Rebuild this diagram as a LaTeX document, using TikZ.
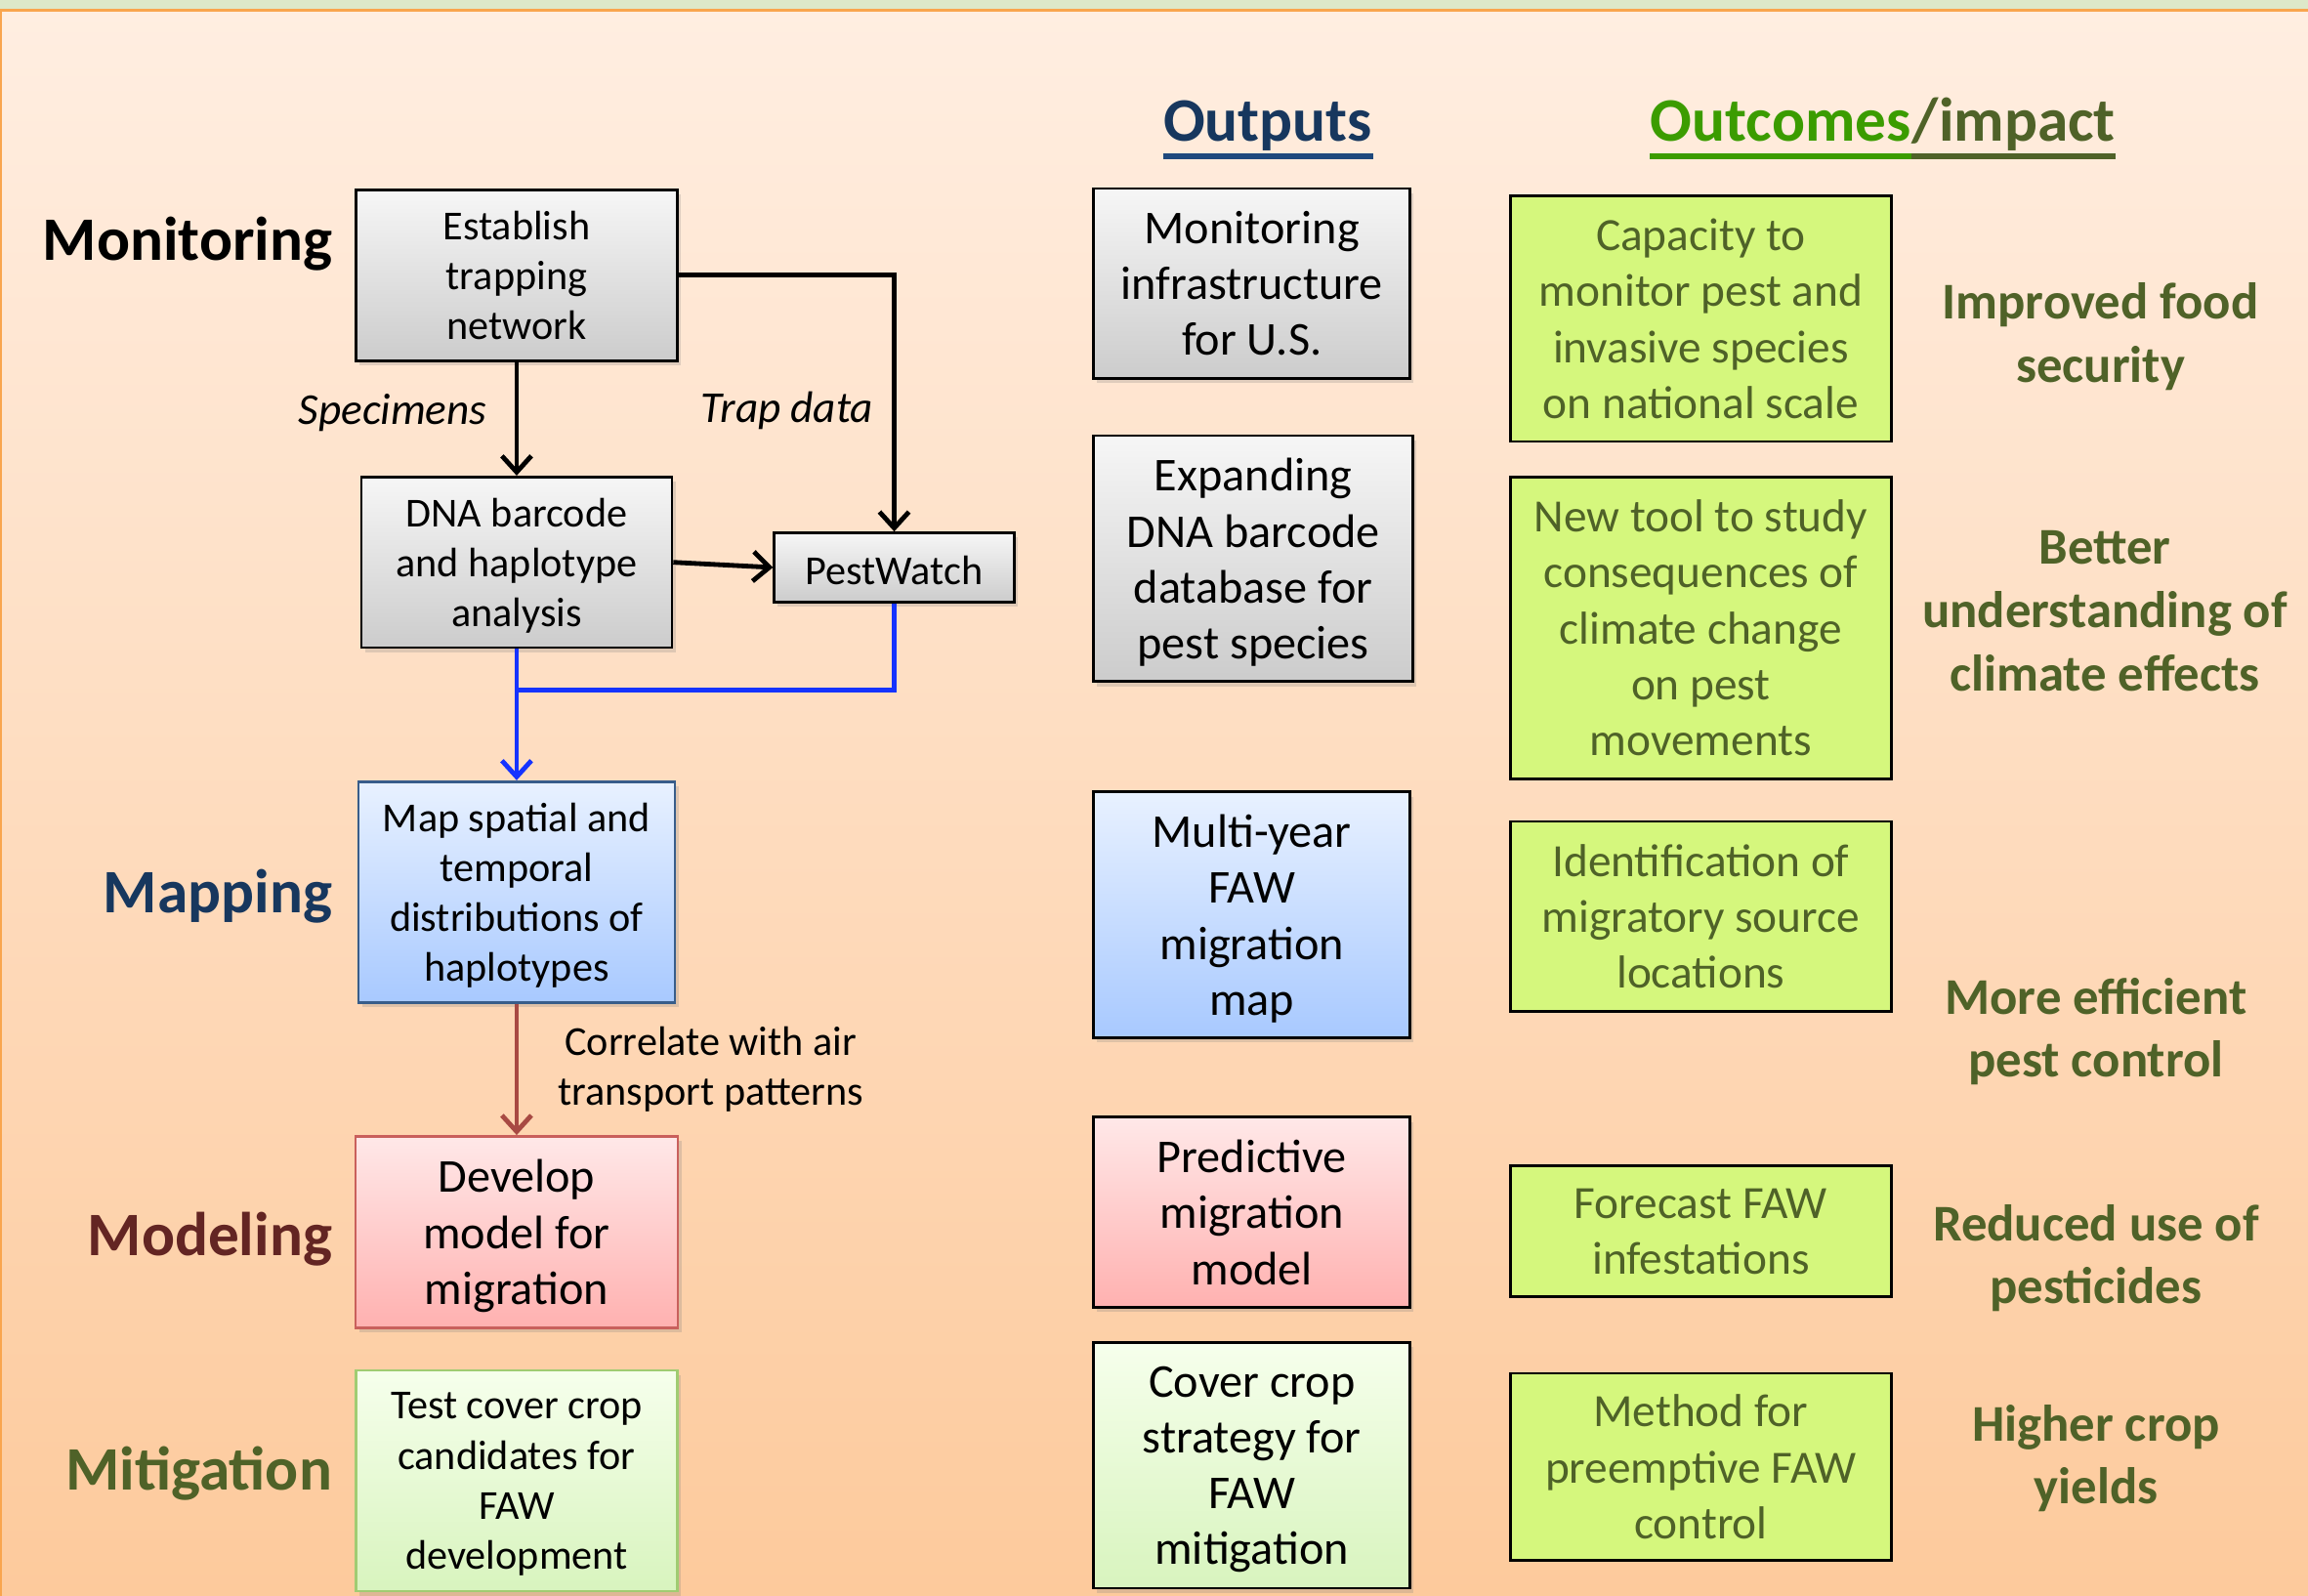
\documentclass[tikz,border=0pt]{standalone}
\usepackage{fontspec}
\setmainfont{Carlito}
\usetikzlibrary{positioning,arrows.meta,shadows}

\definecolor{navyhead}{HTML}{17375E}
\definecolor{navyline}{HTML}{1F497D}
\definecolor{olivetext}{HTML}{4F6228}
\definecolor{grassgreen}{HTML}{3B9C00}
\definecolor{winered}{HTML}{632523}
\definecolor{limefill}{HTML}{D5F77D}
\definecolor{brickred}{HTML}{A84A43}
\definecolor{wireblue}{HTML}{1533FF}
\definecolor{peachtop}{HTML}{FFEEE1}
\definecolor{peachbot}{HTML}{FDCA9C}
\definecolor{bandgreen}{HTML}{DDE8C9}
\definecolor{bandorange}{HTML}{F9A54E}
\definecolor{bluetop}{HTML}{E8F1FF}
\definecolor{bluebot}{HTML}{A8C9FF}
\definecolor{mapborder}{HTML}{385D8A}
\definecolor{pinktop}{HTML}{FFE8E8}
\definecolor{pinkbot}{HTML}{FFB1B0}
\definecolor{pinkborder}{HTML}{C9605C}
\definecolor{greentop}{HTML}{F6FFEC}
\definecolor{greenbot}{HTML}{D8F4BE}
\definecolor{greenborder}{HTML}{A0CC72}

\tikzset{
  stage/.style={draw, line width=0.9pt, align=center, inner sep=1pt, text depth=0pt,
    execute at begin node={\rule{0pt}{0.84em}},
    drop shadow={opacity=0.25, shadow xshift=1.2pt, shadow yshift=-1.6pt}},
  greystage/.style={stage, top color=gray!7, bottom color=gray!40},
  bluestage/.style={stage, top color=bluetop, bottom color=bluebot},
  pinkstage/.style={stage, top color=pinktop, bottom color=pinkbot},
  greenstage/.style={stage, top color=greentop, bottom color=greenbot},
  goal/.style={draw, line width=0.9pt, fill=limefill, align=center, text=olivetext,
    text depth=0pt, execute at begin node={\rule{0pt}{0.84em}},
    font=\fontsize{15.7}{19}\selectfont},
  smalltxt/.style={font=\fontsize{14}{17}\selectfont},
  bigtxt/.style={font=\fontsize{16}{19}\selectfont},
  rowname/.style={anchor=base east, inner sep=0pt, font=\fontsize{21}{25}\selectfont\bfseries},
  impact/.style={align=center, text=olivetext, text depth=0pt, font=\fontsize{17.5}{21.5}\selectfont\bfseries},
  head/.style={anchor=base west, inner sep=0pt, font=\fontsize{21}{25}\selectfont\bfseries},
  flow/.style={line width=1.6pt, -{Straight Barb[length=5.5pt,width=10pt]}},
  bluewire/.style={wireblue, line width=1.6pt},
}

\begin{document}
\begin{tikzpicture}[x=0.5pt,y=-0.5pt]
    \useasboundingbox (0,0) rectangle (1568,1084);
    % background of the slide
    \shade[top color=peachtop, bottom color=peachbot] (0,7) rectangle (1568,1084);
    \fill[bandgreen] (0,0) rectangle (1568,6.5);
    \draw[bandorange, line width=1pt] (0,7) -- (1568,7);
    \draw[bandorange, line width=1pt] (0.5,7) -- (0.5,1084);

    % headings
    \node[head, text=navyhead] (outputs) at (790,96) {Outputs};
    \draw[navyline, line width=2pt] ([yshift=-5pt]outputs.base west) -- ([yshift=-5pt]outputs.base east);
    \node[head, text=grassgreen] (outc) at (1121,96) {Outcomes};
    \node[head, text=olivetext] (imp) at (outc.base east) {/impact};
    \draw[grassgreen, line width=2pt] ([yshift=-5pt]outc.base west) -- ([yshift=-5pt]outc.base east);
    \draw[olivetext, line width=2pt] ([yshift=-5pt]imp.base west) -- ([yshift=-5pt]imp.base east);

    % row names
    \node[rowname] (monit) at (226,177) {Monitoring};
    \node[rowname, text=navyhead] (mapping) at (226,620) {Mapping};
    \node[rowname, text=winered] (modeling) at (226,853) {Modeling};
    \node[rowname, text=olivetext] (mitig) at (226,1012) {Mitigation};

    % activities
    \node[greystage, smalltxt, minimum width=109pt, minimum height=58pt] (est) at (351,187) {Establish\\trapping\\network};
    \node[greystage, smalltxt, minimum width=105.5pt, minimum height=58pt] (dna) at (351,382) {DNA barcode\\and haplotype\\analysis};
    \node[greystage, smalltxt, minimum width=81.5pt, minimum height=23.5pt] (pest) at (607.5,385.5) {PestWatch};
    \node[bluestage, draw=mapborder, smalltxt, minimum width=107.5pt, minimum height=75pt] (map) at (351,606) {Map spatial and\\temporal\\distributions of\\haplotypes};
    \node[pinkstage, draw=pinkborder, bigtxt, minimum width=109.5pt, minimum height=65pt] (dev) at (351,837) {Develop\\model for\\migration};
    \node[greenstage, draw=greenborder, smalltxt, minimum width=109pt, minimum height=75pt] (test) at (351,1006) {Test cover crop\\candidates for\\FAW\\development};

    \draw[flow] (est) -- node[left=6pt, yshift=2pt, font=\fontsize{15}{17}\selectfont\itshape] (spec) {Specimens} (dna);
    \draw[flow] (est.east) -| node[pos=0.765, left=3pt, font=\fontsize{15}{17}\selectfont\itshape] (trap) {Trap data} (pest.north);
    \draw[flow] (dna.east) -- (pest.west);
    \coordinate (merge) at (351,469);
    \draw[bluewire] (pest.south) |- (merge);
    \draw[bluewire, -{Straight Barb[length=5.5pt,width=10pt]}] (dna.south) -- (map.north);
    \draw[brickred, line width=1.6pt, -{Straight Barb[length=5.5pt,width=10pt]}] (map.south) -- node[right=10pt, smalltxt, text=black, align=center] (corr) {Correlate with air\\transport patterns} (dev.north);

    % outputs
    \node[greystage, draw=black, bigtxt, minimum width=107.5pt, minimum height=64.5pt] (out1) at (850.5,192.5) {Monitoring\\infrastructure\\for U.S.};
    \node[greystage, draw=black, bigtxt, minimum width=108.5pt, minimum height=83.5pt] (out2) at (851.5,379.5) {Expanding\\DNA barcode\\database for\\pest species};
    \node[bluestage, draw=black, bigtxt, minimum width=107.5pt, minimum height=83.5pt] (out3) at (850.5,621.5) {Multi-year\\FAW\\migration\\map};
    \node[pinkstage, draw=black, bigtxt, minimum width=107.5pt, minimum height=64.5pt] (out4) at (850.5,823.5) {Predictive\\migration\\model};
    \node[greenstage, draw=black, bigtxt, minimum width=107.5pt, minimum height=83.5pt] (out5) at (850.5,995.5) {Cover crop\\strategy for\\FAW\\mitigation};

    % outcomes
    \node[goal, minimum width=129.5pt, minimum height=83.5pt] (res1) at (1155.5,216.5) {Capacity to\\monitor pest and\\invasive species\\on national scale};
    \node[goal, minimum width=129.5pt, minimum height=102.5pt] (res2) at (1155.5,426.5) {New tool to study\\consequences of\\climate change\\on pest\\movements};
    \node[goal, minimum width=129.5pt, minimum height=64.5pt] (res3) at (1155.5,622.5) {Identification of\\migratory source\\locations};
    \node[goal, minimum width=129.5pt, minimum height=44.5pt] (res4) at (1155.5,836.5) {Forecast FAW\\infestations};
    \node[goal, minimum width=129.5pt, minimum height=63.5pt] (res5) at (1155.5,996.5) {Method for\\preemptive FAW\\control};

    % impact
    \node[impact] (imp1) at (1427,226) {Improved food\\security};
    \node[impact] (imp2) at (1430,415) {Better\\understanding of\\climate effects};
    \node[impact] (imp3) at (1424,698) {More efficient\\pest control};
    \node[impact] (imp4) at (1424,852) {Reduced use of\\pesticides};
    \node[impact] (imp5) at (1424,988) {Higher crop\\yields};
\end{tikzpicture}
\end{document}
